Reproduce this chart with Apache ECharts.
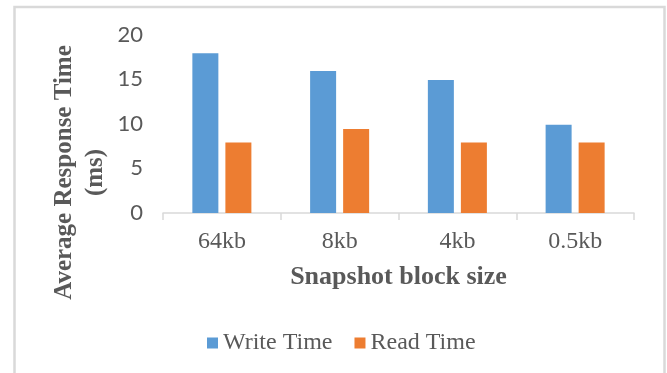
<!DOCTYPE html>
<html>
<head>
<meta charset="utf-8">
<script src="https://cdn.jsdelivr.net/npm/echarts@6/dist/echarts.min.js"></script>
<style>
html,body{margin:0;padding:0;background:#fff;}
#chart{width:667px;height:373px;}
</style>
</head>
<body>
<div id="chart"></div>
<script>
const categories = ['64kb', '8kb', '4kb', '0.5kb'];
const writeTime = [17.9, 15.9, 14.9, 9.9];
const readTime = [7.9, 9.4, 7.9, 7.9];
const yTicks = { min: 0, max: 20, interval: 5 };
const seriesNames = ['Write Time', 'Read Time'];

const chart = echarts.init(document.getElementById('chart'), null, { renderer: 'canvas' });
const serif = '"Liberation Serif", "Times New Roman", serif';
const textColor = '#595959';

chart.setOption({
  animation: false,
  backgroundColor: '#ffffff',
  grid: { left: 163, right: 33, top: 34.5, bottom: 160, containLabel: false },
  legend: {
    data: seriesNames,
    left: 202,
    top: 326,
    icon: 'rect',
    itemWidth: 11,
    itemHeight: 11,
    itemGap: 22,
    textStyle: { fontFamily: serif, fontSize: 24, color: textColor, padding: [0, 0, 0, 0] }
  },
  xAxis: {
    type: 'category',
    data: categories,
    name: 'Snapshot block size',
    nameLocation: 'middle',
    nameGap: 51,
    nameTextStyle: { fontFamily: serif, fontSize: 26, fontWeight: 'bold', color: textColor },
    axisLine: { lineStyle: { color: '#d9d9d9', width: 1.5 } },
    axisTick: { show: true, length: 7, lineStyle: { color: '#d9d9d9', width: 1.5 } },
    axisLabel: { fontFamily: serif, fontSize: 24, color: textColor, margin: 17 },
    splitLine: { show: false }
  },
  yAxis: {
    type: 'value',
    min: yTicks.min,
    max: yTicks.max,
    interval: yTicks.interval,
    axisLine: { show: false },
    axisTick: { show: false },
    splitLine: { show: false },
    axisLabel: { fontFamily: 'Lato, "Open Sans", sans-serif', fontSize: 22, color: textColor, margin: 20 }
  },
  graphic: [
    {
      type: 'rect',
      shape: { x: 14.5, y: 7, width: 650, height: 400 },
      style: { fill: 'none', stroke: '#d9d9d9', lineWidth: 2.5 },
      silent: true
    },
    {
      type: 'text',
      x: 80,
      y: 172.5,
      rotation: Math.PI / 2,
      style: {
        text: 'Average Response Time\n(ms)',
        font: 'bold 25px ' + serif,
        fill: textColor,
        align: 'center',
        verticalAlign: 'middle',
        lineHeight: 31
      },
      silent: true
    }
  ],
  series: [
    {
      name: seriesNames[0],
      type: 'bar',
      data: writeTime,
      barWidth: 26,
      barGap: '27%',
      itemStyle: { color: '#5B9BD5' }
    },
    {
      name: seriesNames[1],
      type: 'bar',
      data: readTime,
      barWidth: 26,
      itemStyle: { color: '#ED7D31' }
    }
  ]
});
</script>
</body>
</html>
